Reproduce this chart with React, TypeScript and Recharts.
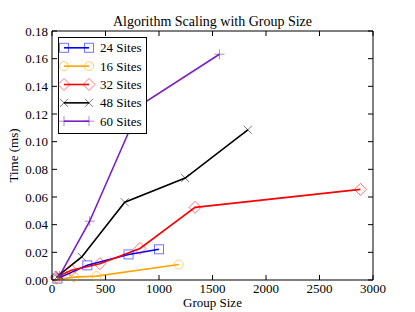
import { LineChart, Line, XAxis, YAxis, Legend } from 'recharts';

const FONT = '"Liberation Serif", "DejaVu Serif", serif';

// Group size / time (ms)
const sites24 = [
  { x: 50, y: 0.001 },
  { x: 330, y: 0.0106 },
  { x: 715, y: 0.0185 },
  { x: 1000, y: 0.0222 },
];
const sites16 = [
  { x: 45, y: 0.0004 },
  { x: 205, y: 0.0021 },
  { x: 415, y: 0.0028 },
  { x: 1185, y: 0.0112 },
];
const sites32 = [
  { x: 40, y: 0.002 },
  { x: 180, y: 0.007 },
  { x: 447, y: 0.0118 },
  { x: 822, y: 0.0228 },
  { x: 1337, y: 0.0525 },
  { x: 2882, y: 0.0655 },
];
const sites48 = [
  { x: 65, y: 0.0035 },
  { x: 278, y: 0.0167 },
  { x: 680, y: 0.0562 },
  { x: 1245, y: 0.0737 },
  { x: 1830, y: 0.1086 },
];
const sites60 = [
  { x: 70, y: 0.003 },
  { x: 352, y: 0.0425 },
  { x: 828, y: 0.1265 },
  { x: 1565, y: 0.1632 },
];

const xTicks = [0, 500, 1000, 1500, 2000, 2500, 3000];
const yTicks = [0, 0.02, 0.04, 0.06, 0.08, 0.1, 0.12, 0.14, 0.16, 0.18];

const series = [
  { name: '24 Sites', data: sites24, color: '#0000ff', marker: 'square' },
  { name: '16 Sites', data: sites16, color: '#ffa500', marker: 'circle' },
  { name: '32 Sites', data: sites32, color: '#ff0000', marker: 'diamond' },
  { name: '48 Sites', data: sites48, color: '#000000', marker: 'x' },
  { name: '60 Sites', data: sites60, color: '#7b1fbf', marker: 'plus' },
];

function Marker({ kind, cx, cy, color }: { kind: string; cx: number; cy: number; color: string }) {
  const common = { stroke: color, strokeOpacity: 0.55, strokeWidth: 1, fill: 'none' };
  if (kind === 'square') return <rect x={cx - 4.5} y={cy - 4.5} width={9} height={9} {...common} />;
  if (kind === 'circle') return <circle cx={cx} cy={cy} r={4.5} {...common} />;
  if (kind === 'diamond')
    return <path d={`M${cx},${cy - 6}L${cx + 6},${cy}L${cx},${cy + 6}L${cx - 6},${cy}Z`} {...common} />;
  if (kind === 'x')
    return (
      <path
        d={`M${cx - 4},${cy - 4}L${cx + 4},${cy + 4}M${cx - 4},${cy + 4}L${cx + 4},${cy - 4}`}
        {...common}
      />
    );
  return <path d={`M${cx - 5},${cy}L${cx + 5},${cy}M${cx},${cy - 5}L${cx},${cy + 5}`} {...common} />;
}

const BottomTick = ({ x, y, payload }: any) => (
  <g>
    <line x1={x} x2={x} y1={y} y2={y - 5} stroke="#000" />
    <text x={x} y={y + 13} textAnchor="middle" fontSize={13} fontFamily={FONT} fill="#000">
      {payload.value}
    </text>
  </g>
);
const TopTick = ({ x, y }: any) => <line x1={x} x2={x} y1={y} y2={y + 5} stroke="#000" />;
const LeftTick = ({ x, y, payload }: any) => (
  <g>
    <line x1={x} x2={x + 5} y1={y} y2={y} stroke="#000" />
    <text x={x - 4} y={y} dy="0.35em" textAnchor="end" fontSize={13} fontFamily={FONT} fill="#000">
      {payload.value.toFixed(2)}
    </text>
  </g>
);
const RightTick = ({ x, y }: any) => <line x1={x} x2={x - 5} y1={y} y2={y} stroke="#000" />;

function LegendBox() {
  return (
    <svg width={90} height={98} style={{ display: 'block' }}>
      <rect x={0.5} y={0.5} width={88} height={96} fill="#fff" stroke="#000" />
      {series.map((s, i) => {
        const cy = 10.8 + i * 18.35;
        return (
          <g key={s.name}>
            <line x1={6} x2={31} y1={cy} y2={cy} stroke={s.color} strokeWidth={1.6} />
            <Marker kind={s.marker} cx={6} cy={cy} color={s.color} />
            <Marker kind={s.marker} cx={31} cy={cy} color={s.color} />
            <text x={42} y={cy} dy="0.35em" fontSize={13} fontFamily={FONT} fill="#000">
              {s.name}
            </text>
          </g>
        );
      })}
    </svg>
  );
}

export default function App() {
  return (
    <div style={{ position: 'absolute', left: 0, top: 0, background: '#fff' }}>
      <LineChart width={415} height={312} margin={{ top: 30, right: 41, bottom: 0, left: 0 }}>
        <XAxis
          dataKey="x"
          type="number"
          domain={[0, 3000]}
          ticks={xTicks}
          height={32}
          stroke="#000"
          tickLine={false}
          tickSize={0}
          tickMargin={0}
          tick={<BottomTick />}
          label={({ viewBox }: any) => (
            <text
              x={viewBox.x + viewBox.width / 2}
              y={viewBox.y + 27}
              textAnchor="middle"
              fontSize={13}
              fontFamily={FONT}
            >
              Group Size
            </text>
          )}
        />
        <XAxis
          xAxisId="top"
          orientation="top"
          dataKey="x"
          type="number"
          domain={[0, 3000]}
          allowDataOverflow
          ticks={xTicks}
          height={1}
          stroke="#000"
          tickLine={false}
          tickSize={0}
          tickMargin={0}
          tick={<TopTick />}
          label={({ viewBox }: any) => (
            <text
              x={viewBox.x + viewBox.width / 2}
              y={viewBox.y + viewBox.height - 5}
              textAnchor="middle"
              fontSize={14}
              fontFamily={FONT}
            >
              Algorithm Scaling with Group Size
            </text>
          )}
        />
        <YAxis
          type="number"
          domain={[0, 0.18]}
          ticks={yTicks}
          width={52}
          stroke="#000"
          tickLine={false}
          tickSize={0}
          tickMargin={0}
          tick={<LeftTick />}
          label={({ viewBox }: any) => {
            const cx = viewBox.x + 18;
            const cy = viewBox.y + viewBox.height / 2;
            return (
              <text
                x={cx}
                y={cy}
                textAnchor="middle"
                fontSize={13}
                fontFamily={FONT}
                transform={`rotate(-90 ${cx} ${cy})`}
              >
                Time (ms)
              </text>
            );
          }}
        />
        <YAxis
          yAxisId="right"
          orientation="right"
          type="number"
          domain={[0, 0.18]}
          allowDataOverflow
          ticks={yTicks}
          width={1}
          stroke="#000"
          tickLine={false}
          tickSize={0}
          tickMargin={0}
          tick={<RightTick />}
        />
        <Legend
          layout="vertical"
          align="center"
          verticalAlign="middle"
          content={() => <LegendBox />}
          wrapperStyle={{ left: 58, top: 37, width: 90, height: 98 }}
        />
        {/* invisible twin so the top/right frame axes get drawn */}
        <Line
          xAxisId="top"
          yAxisId="right"
          data={sites32}
          dataKey="y"
          stroke="none"
          dot={false}
          activeDot={false}
          legendType="none"
          isAnimationActive={false}
        />
        {series.map((s) => (
          <Line
            key={s.name}
            name={s.name}
            data={s.data}
            dataKey="y"
            stroke={s.color}
            strokeWidth={1.6}
            isAnimationActive={false}
            dot={(p: any) => (
              <Marker key={`${s.name}-${p.index}`} kind={s.marker} cx={p.cx} cy={p.cy} color={s.color} />
            )}
            activeDot={false}
          />
        ))}
      </LineChart>
    </div>
  );
}
